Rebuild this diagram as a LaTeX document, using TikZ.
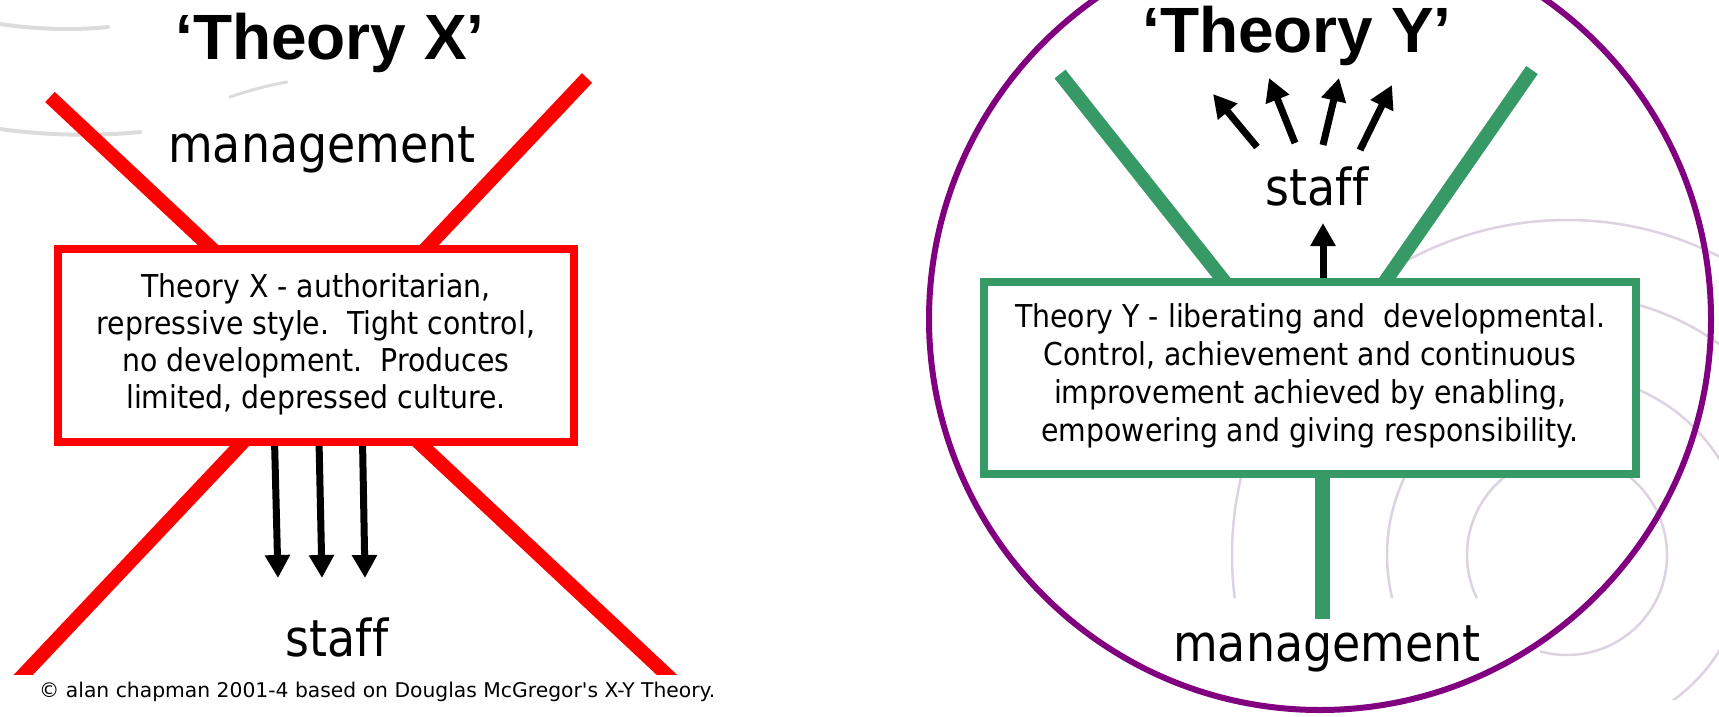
\documentclass[tikz,border=0pt]{standalone}
\usepackage{fontspec}
\setmainfont{DejaVu Sans}[FakeStretch=0.9,Ligatures={TeX,NoCommon}]
\newfontfamily\headfont{Liberation Sans}
\newfontfamily\creditfont{DejaVu Sans}[Ligatures={TeX,NoCommon}]
\usetikzlibrary{arrows.meta}
\definecolor{xred}{HTML}{FF0000}
\definecolor{ygreen}{HTML}{369966}
\definecolor{ring}{HTML}{800080}
\definecolor{ripple}{HTML}{DDD3E0}
\definecolor{smudge}{HTML}{DCDCDC}

\begin{document}
\begin{tikzpicture}[x=1pt,y=-1pt,
  xbar/.style={draw=xred,line width=14pt},
  ybar/.style={draw=ygreen,line width=14pt},
  xframe/.style={draw=xred,line width=8pt,fill=white,inner sep=0pt},
  yframe/.style={draw=ygreen,line width=8pt,fill=white,inner sep=0pt},
  push/.style={line width=7pt,-{Triangle[length=23pt,width=24pt]}},
  boxtext/.style={anchor=base,inner sep=0pt,font=\fontsize{31.5}{37}\selectfont},
  word/.style={anchor=base,inner sep=0pt,font=\fontsize{51}{60}\selectfont},
  heading/.style={anchor=base,inner sep=0pt,font=\headfont\bfseries\fontsize{64}{72}\selectfont},
  ripple line/.style={draw=ripple,line width=2.5pt},
]
\useasboundingbox (0,0) rectangle (1719,716);

% soft strokes in the upper left corner
\draw[smudge,line width=4pt,line cap=round] (0,24) .. controls (40,30) and (80,30) .. (108,27);
\draw[smudge,line width=4pt,line cap=round] (0,129) .. controls (50,136) and (100,136) .. (140,132);
\draw[smudge,line width=3pt,line cap=round] (230,97) .. controls (250,90) and (270,85) .. (287,82);

% ripples behind the Theory Y panel
\begin{scope}
  \clip (1400,200) -- (1719,200) -- (1719,700) -- (1631,700) -- (1631,716)
        -- (1540,716) -- (1540,598) -- (1225,598) -- (1225,478) -- (1400,478) -- cycle;
  \foreach \r in {100,180,335} \draw[ripple line] (1567,555) circle[radius=\r pt];
  \begin{scope}
    \clip (1600,200) rectangle (1719,716);
    \draw[ripple line] (1567,555) circle[radius=260pt];
  \end{scope}
\end{scope}

% the ring round Theory Y
\draw[ring,line width=6pt] (1320,319) circle[radius=391pt];

% ---- Theory X: the crossed-out figure ----
\coordinate (xa1) at (50,97);   \coordinate (xa2) at (682,689);
\coordinate (xb1) at (587,78);  \coordinate (xb2) at (9,690);
\begin{scope}
  \clip (0,0) rectangle (1719,674);
  \draw[xbar] (xa1) -- (xa2);
  \draw[xbar] (xb1) -- (xb2);
\end{scope}

\coordinate (xd1s) at (274.5,440); \coordinate (xd1e) at (278,578);
\coordinate (xd2s) at (319,440);   \coordinate (xd2e) at (322,578);
\coordinate (xd3s) at (362.5,440); \coordinate (xd3e) at (365,578);
\draw[push] (xd1s) -- (xd1e);
\draw[push] (xd2s) -- (xd2e);
\draw[push] (xd3s) -- (xd3e);

\node[xframe,minimum width=516pt,minimum height=193pt] (xbox) at (316,345.5) {};
\node[boxtext] (x1) at (316,297) {Theory X - authoritarian,};
\node[boxtext] (x2) at (316,334) {repressive style.\ \ Tight control,};
\node[boxtext] (x3) at (316,371) {no development.\ \ Produces};
\node[boxtext] (x4) at (316,408) {limited, depressed culture.};

\node[heading] (xtitle) at (330,59) {‘Theory X’};
\node[word] (xmgmt) at (322,162) {management};
\node[word] (xstaff) at (337,656) {staff};

% ---- Theory Y: the open figure ----
\coordinate (yl1) at (1060,74);  \coordinate (yl2) at (1228,286);
\coordinate (yr1) at (1532,70);  \coordinate (yr2) at (1382,286);
\draw[ybar] (yl1) -- (yl2);
\draw[ybar] (yr1) -- (yr2);
\coordinate (ys1) at (1322,470); \coordinate (ys2) at (1322,619);
\draw[ygreen,line width=15pt] (ys1) -- (ys2);

\coordinate (yu1) at (1323,284); \coordinate (yu2) at (1323,223);
\draw[push] (yu1) -- (yu2);
\coordinate (yf1s) at (1257,147); \coordinate (yf1e) at (1213,94);
\coordinate (yf2s) at (1295,143); \coordinate (yf2e) at (1269,78);
\coordinate (yf3s) at (1323,145); \coordinate (yf3e) at (1339,78);
\coordinate (yf4s) at (1360,150); \coordinate (yf4e) at (1392,85);
\draw[push] (yf1s) -- (yf1e);
\draw[push] (yf2s) -- (yf2e);
\draw[push] (yf3s) -- (yf3e);
\draw[push] (yf4s) -- (yf4e);

\node[yframe,minimum width=652pt,minimum height=192pt] (ybox) at (1310,378) {};
\node[boxtext] (y1) at (1310,327.5) {Theory Y - liberating and\ \ developmental.};
\node[boxtext] (y2) at (1310,365.3) {Control, achievement and continuous};
\node[boxtext] (y3) at (1310,403) {improvement achieved by enabling,};
\node[boxtext] (y4) at (1310,441) {empowering and giving responsibility.};

\node[heading] (ytitle) at (1297,52) {‘Theory Y’};
\node[word] (ystaff) at (1317,205) {staff};
\node[word] (ymgmt) at (1327,661) {management};

\node[anchor=base west,inner sep=0pt,font=\creditfont\fontsize{20.3}{24}\selectfont] (credit) at (39,697)
  {© alan chapman 2001-4 based on Douglas McGregor\textquotesingle s X-Y Theory.};
\end{tikzpicture}
\end{document}
